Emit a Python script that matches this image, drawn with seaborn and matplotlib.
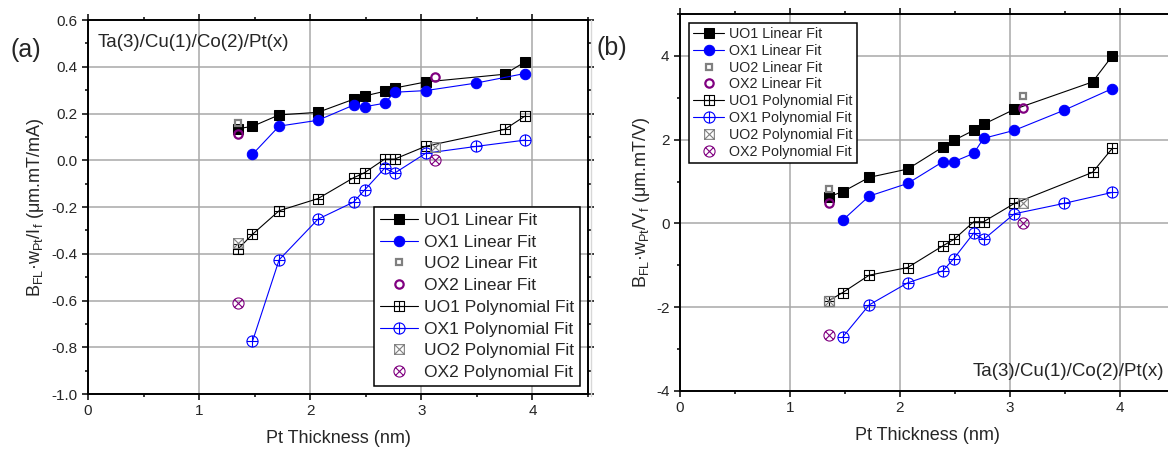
import matplotlib
matplotlib.use("Agg")
import matplotlib.pyplot as plt
import numpy as np
import pandas as pd
import seaborn as sns
from matplotlib.lines import Line2D
from matplotlib.path import Path
from matplotlib.ticker import MultipleLocator

# x positions (Pt thickness, nm)
X_UO1 = [1.35, 1.48, 1.72, 2.07, 2.39, 2.49, 2.67, 2.76, 3.04, 3.75, 3.93]
X_OX1 = [1.48, 1.72, 2.07, 2.39, 2.49, 2.67, 2.76, 3.04, 3.49, 3.93]
X_2 = [1.35, 3.12]

# panel (a): B_FL.w_Pt/I_f
A_UO1_LIN = [0.135, 0.145, 0.194, 0.205, 0.261, 0.275, 0.295, 0.309, 0.335, 0.368, 0.420]
A_OX1_LIN = [0.025, 0.146, 0.171, 0.236, 0.229, 0.244, 0.291, 0.298, 0.330, 0.371]
A_UO2_LIN = [0.158, np.nan]
A_OX2_LIN = [0.113, 0.357]
A_UO1_POLY = [-0.380, -0.317, -0.216, -0.164, -0.075, -0.053, 0.005, 0.005, 0.060, 0.132, 0.188]
A_OX1_POLY = [-0.775, -0.426, -0.252, -0.179, -0.127, -0.034, -0.055, 0.030, 0.059, 0.086]
A_UO2_POLY = [-0.353, 0.055]
A_OX2_POLY = [-0.609, 0.0]

# panel (b): B_FL.w_Pt/V_f
B_UO1_LIN = [0.637, 0.757, 1.100, 1.299, 1.825, 1.984, 2.223, 2.367, 2.725, 3.378, 4.0]
B_OX1_LIN = [0.080, 0.653, 0.956, 1.474, 1.474, 1.673, 2.032, 2.223, 2.701, 3.219]
B_UO2_LIN = [0.813, 3.052]
B_OX2_LIN = [0.494, 2.749]
B_UO1_POLY = [-1.849, -1.649, -1.235, -1.052, -0.534, -0.382, 0.040, 0.040, 0.478, 1.219, 1.793]
B_OX1_POLY = [-2.709, -1.944, -1.418, -1.131, -0.837, -0.231, -0.382, 0.231, 0.478, 0.741]
B_UO2_POLY = [-1.849, 0.478]
B_OX2_POLY = [-2.669, 0.0]

LABELS = ["UO1 Linear Fit", "OX1 Linear Fit", "UO2 Linear Fit", "OX2 Linear Fit",
          "UO1 Polynomial Fit", "OX1 Polynomial Fit", "UO2 Polynomial Fit", "OX2 Polynomial Fit"]

sns.set_style("ticks")
plt.rcParams["font.family"] = ["Liberation Sans", "DejaVu Sans"]
plt.rcParams["mathtext.default"] = "regular"
plt.rcParams["axes.unicode_minus"] = False


def _with_cross(base, r=1.0, diag=False):
    """Outline marker with a + or x drawn inside."""
    if diag:
        cross = Path([(-r, -r), (r, r), (-r, r), (r, -r)],
                     [Path.MOVETO, Path.LINETO, Path.MOVETO, Path.LINETO])
    else:
        cross = Path([(0, -1), (0, 1), (-1, 0), (1, 0)],
                     [Path.MOVETO, Path.LINETO, Path.MOVETO, Path.LINETO])
    return Path.make_compound_path(base, cross)


SQUARE = Path([(-1, -1), (1, -1), (1, 1), (-1, 1), (-1, -1)],
              [Path.MOVETO, Path.LINETO, Path.LINETO, Path.LINETO, Path.CLOSEPOLY])
CIRCLE = Path.unit_circle()
SQ_PLUS = _with_cross(SQUARE)
CI_PLUS = _with_cross(CIRCLE)
SQ_X = _with_cross(SQUARE, diag=True)
CI_X = _with_cross(CIRCLE, r=0.71, diag=True)

STYLES = [
    dict(color="black", marker="s", ms=7, mfc="black", mec="black", lw=0.8),
    dict(color="blue", marker="o", ms=7.5, mfc="blue", mec="blue", lw=0.8),
    dict(color="gray", marker="s", ms=5, mfc="none", mec="gray", mew=1.6, ls="none"),
    dict(color="purple", marker="o", ms=6, mfc="none", mec="purple", mew=1.6, ls="none"),
    dict(color="black", marker=SQ_PLUS, ms=7, mfc="none", mec="black", mew=0.8, lw=0.8),
    dict(color="blue", marker=CI_PLUS, ms=8, mfc="none", mec="blue", mew=0.8, lw=0.8),
    dict(color="gray", marker=SQ_X, ms=7, mfc="none", mec="gray", mew=0.8, ls="none"),
    dict(color="purple", marker=CI_X, ms=8, mfc="none", mec="purple", mew=0.8, ls="none"),
]


def draw_panel(ax, series):
    xs = [X_UO1, X_OX1, X_2, X_2, X_UO1, X_OX1, X_2, X_2]
    for x, y, label, st in zip(xs, series, LABELS, STYLES):
        df = pd.DataFrame({"x": x, "y": y})
        sns.lineplot(data=df, x="x", y="y", ax=ax, label=label, estimator=None,
                     sort=False, legend=False, **st)
    ax.set_xlim(0, 4.5)
    ax.xaxis.set_major_locator(MultipleLocator(1))
    ax.xaxis.set_minor_locator(MultipleLocator(0.5))
    ax.grid(True, which="major", color="#a8a8a8", lw=1.1)
    ax.set_axisbelow(True)
    ax.tick_params(which="both", direction="out", top=True, right=True,
                   labelsize=11, width=1.1, color="black")
    ax.tick_params(which="major", length=4)
    ax.tick_params(which="minor", length=2.5)
    for sp in ax.spines.values():
        sp.set_visible(True)
        sp.set_linewidth(1.4)
        sp.set_color("black")
    ax.set_xlabel("Pt Thickness (nm)", fontsize=13, labelpad=8)
    handles, labels = ax.get_legend_handles_labels()
    return handles, labels


fig = plt.figure(figsize=(11.68, 4.51), dpi=100)

ax_a = fig.add_axes([88 / 1168, 57 / 451, 500 / 1168, 374 / 451])
h, l = draw_panel(ax_a, [A_UO1_LIN, A_OX1_LIN, A_UO2_LIN, A_OX2_LIN,
                         A_UO1_POLY, A_OX1_POLY, A_UO2_POLY, A_OX2_POLY])
ax_a.set_ylim(-1.0, 0.6)
ax_a.yaxis.set_major_locator(MultipleLocator(0.2))
ax_a.yaxis.set_minor_locator(MultipleLocator(0.1))
ax_a.yaxis.set_major_formatter(matplotlib.ticker.FormatStrFormatter("%.1f"))
ax_a.set_ylabel(r"B$_{FL}$·w$_{Pt}$/I$_{f}$ (μm.mT/mA)", fontsize=13, labelpad=4)
leg = ax_a.legend(h, l, loc="lower right", fontsize=12.5, frameon=True, fancybox=False,
                  framealpha=1, edgecolor="black", labelspacing=0.38, handlelength=2.2,
                  handletextpad=0.35, borderpad=0.35, borderaxespad=0.45)
leg.get_frame().set_linewidth(1.1)
ax_a.text(0.02, 0.94, "Ta(3)/Cu(1)/Co(2)/Pt(x)", transform=ax_a.transAxes,
          fontsize=13.5, ha="left", va="center")
fig.text(10 / 1168, 1 - 50 / 451, "(a)", fontsize=18, ha="left", va="center")

ax_b = fig.add_axes([680 / 1168, 60 / 451, 495 / 1168, 377 / 451])
h, l = draw_panel(ax_b, [B_UO1_LIN, B_OX1_LIN, B_UO2_LIN, B_OX2_LIN,
                         B_UO1_POLY, B_OX1_POLY, B_UO2_POLY, B_OX2_POLY])
ax_b.set_ylim(-4, 5)
ax_b.yaxis.set_major_locator(MultipleLocator(2))
ax_b.yaxis.set_minor_locator(MultipleLocator(1))
ax_b.set_ylabel(r"B$_{FL}$·w$_{Pt}$/V$_{f}$ (μm.mT/V)", fontsize=13, labelpad=3)
leg = ax_b.legend(h, l, loc="upper left", fontsize=10.3, frameon=True, fancybox=False,
                  framealpha=1, edgecolor="black", labelspacing=0.2, handlelength=2.2,
                  handletextpad=0.35, borderpad=0.3, borderaxespad=0.6)
leg.get_frame().set_linewidth(1.1)
ax_b.text((1164 - 680) / 495, 1 - (371 - 14) / 377, "Ta(3)/Cu(1)/Co(2)/Pt(x)",
          transform=ax_b.transAxes, fontsize=13.5, ha="right", va="center")
fig.text(597 / 1168, 1 - 48 / 451, "(b)", fontsize=18, ha="left", va="center")

# thin separator left by the original panel composite
fig.add_artist(Line2D([591 / 1168, 591 / 1168], [1 - 20 / 451, 1 - 396 / 451],
                      color="#d8d8d8", lw=1, transform=fig.transFigure))

fig.savefig("out.png", dpi=100)
